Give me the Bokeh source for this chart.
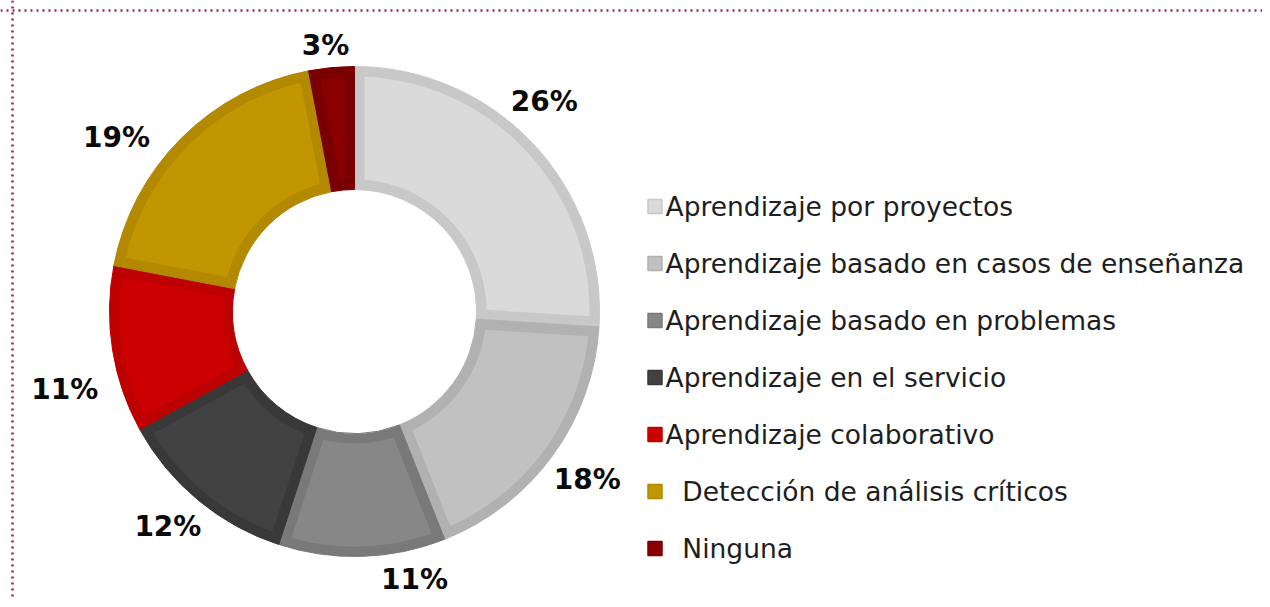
import math
from bokeh.plotting import figure
from bokeh.models import Range1d, Span
from bokeh.core.properties import value
from bokeh.embed import file_html
from bokeh.resources import INLINE

# ---- data ----
categories = [
    "Aprendizaje por proyectos",
    "Aprendizaje basado en casos de enseñanza",
    "Aprendizaje basado en problemas",
    "Aprendizaje en el servicio",
    "Aprendizaje colaborativo",
    "\u00a0\u00a0Detección de análisis críticos",
    "\u00a0\u00a0Ninguna",
]
values = [26, 18, 11, 12, 11, 19, 3]
pct_labels = [f"{v}%" for v in values]

# ---- styles ----
fill_colors = ["#dadada", "#c1c1c1", "#878787", "#434243", "#cc0000", "#c29600", "#8a0000"]
border_colors = ["#c8c8c8", "#b1b1b1", "#797979", "#393839", "#bd0000", "#b28900", "#780000"]
# label placement nudges (degrees of rotation, radial distance in px), like Excel's best-fit
label_nudge = [(-4.7, 283), (-0.2, 287), (-10.8, 275), (1.3, 285), (-6.0, 300), (-8.8, 295), (-0.8, 268)]

W, H = 1262, 599
p = figure(width=W, height=H, output_backend="svg", toolbar_location=None,
           x_range=Range1d(0, W), y_range=Range1d(-H, 0),
           x_axis_location=None, y_axis_location=None, min_border=0,
           outline_line_color=None, background_fill_color="white", border_fill_color="white")
p.grid.visible = False

cx, cy = 354, -311
R_out, R_in, bw = 245, 122, 10

total = float(sum(values))
cum = [0.0]
for v in values:
    cum.append(cum[-1] + v / total)
starts = [math.pi / 2 - 2 * math.pi * c for c in cum[:-1]]
ends = [math.pi / 2 - 2 * math.pi * c for c in cum[1:]]

# full slices in border colour
p.annular_wedge(x=cx, y=cy, inner_radius=R_in, outer_radius=R_out,
                start_angle=starts, end_angle=ends, direction="clock",
                fill_color=border_colors, line_color=border_colors, line_width=1)

# inset fill of each slice
xs, ys = [], []
ro, ri = R_out - bw, R_in + bw
for a0, a1 in zip(starts, ends):
    o0, o1 = a0 - math.asin(bw / ro), a1 + math.asin(bw / ro)
    i0, i1 = a0 - math.asin(bw / ri), a1 + math.asin(bw / ri)
    n = 60
    px, py = [], []
    for k in range(n + 1):
        t = o0 + (o1 - o0) * k / n
        px.append(cx + ro * math.cos(t)); py.append(cy + ro * math.sin(t))
    for k in range(n + 1):
        t = i1 + (i0 - i1) * k / n
        px.append(cx + ri * math.cos(t)); py.append(cy + ri * math.sin(t))
    xs.append(px); ys.append(py)
p.patches(xs=xs, ys=ys, fill_color=fill_colors, line_color=None)

# percentage labels
lx, ly = [], []
for a0, a1, (dth, rr) in zip(starts, ends, label_nudge):
    m = (a0 + a1) / 2 - math.radians(dth)
    lx.append(cx + rr * math.cos(m)); ly.append(cy + rr * math.sin(m))
p.text(x=lx, y=ly, text=pct_labels, text_font=value("DejaVu Sans"), text_font_style="bold",
       text_font_size="28px", text_color="#0a0a0a", text_align="center",
       text_baseline="alphabetic", y_offset=0)

# legend (drawn manually)
leg_x_sq, leg_x_txt, leg_y0, leg_dy = 654.5, 665, -206, 57
leg_y = [leg_y0 - i * leg_dy for i in range(len(categories))]
p.scatter(x=[leg_x_sq] * len(categories), y=leg_y, marker="square", size=14,
          fill_color=fill_colors, line_color=border_colors, line_width=1.5)
p.text(x=[leg_x_txt] * len(categories), y=leg_y, text=categories, text_font=value("DejaVu Sans"),
       text_font_size="26.5px", text_color="#1e1e1e", text_align="left",
       text_baseline="alphabetic", y_offset=0)

# dotted frame (left & top)
dot = dict(line_color="#a3264c", line_width=2.6, line_dash="2 4")
p.add_layout(Span(location=12, dimension="height", **dot))
p.add_layout(Span(location=-10, dimension="width", **dot))

open("out.html", "w").write(file_html(p, INLINE))
